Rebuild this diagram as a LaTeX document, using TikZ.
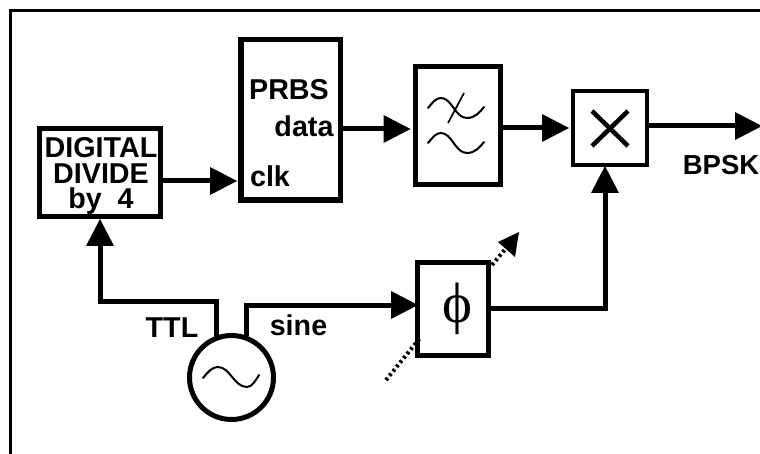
\documentclass[tikz,border=0pt]{standalone}
\usepackage{fontspec}
\setmainfont{Liberation Sans}
\newfontfamily\phifont{Liberation Serif}
\usetikzlibrary{arrows.meta}
\tikzset{
  block/.style={draw=black,line width=5pt,fill=white,inner sep=0pt},
  wire/.style={line width=5pt,line join=miter},
  arrowed/.style={wire,-{Triangle[length=27pt,width=28pt,line width=0pt]}},
  dotline/.style={line width=4pt,dash pattern=on 2.6pt off 3pt},
  lab/.style={font=\bfseries\fontsize{28.7}{30}\selectfont,inner sep=0pt,text=black,anchor=base},
  wave/.style={line width=2pt,line cap=round},
}
\begin{document}
\begin{tikzpicture}[x=1pt,y=-1pt]
\useasboundingbox (0,0) rectangle (760,454);
\fill[white] (0,0) rectangle (760,454);
\coordinate (fa) at (10.5,454);
\coordinate (fb) at (10.5,10.3);
\coordinate (fc) at (760,10.3);
\draw[line width=2.7pt] (fa) -- (fb) -- (fc);

\node[block,minimum width=121pt,minimum height=88pt] (div) at (100,172.5) {};
\node[block,line width=5.5pt,minimum width=99.5pt,minimum height=160.5pt] (prbs) at (290.5,120) {};
\node[block,minimum width=85pt,minimum height=118pt] (filt) at (458,125.5) {};
\node[block,line width=4pt,minimum width=74pt,minimum height=74pt] (mix) at (610,128) {};
\node[block,minimum width=71pt,minimum height=93pt] (ps) at (453,309) {};
\node[circle,block,minimum size=84pt] (osc) at (231.5,377.5) {};

\node[font=\bfseries\fontsize{28.7}{25.6}\selectfont,inner sep=0pt,align=center,anchor=center] (t1) at (101,176) {DIGITAL\\DIVIDE\\by\ \ 4};
\node[lab] (t4) at (289,100) {PRBS};
\node[lab] (t5) at (304,137) {data};
\node[lab] (t6) at (270,187) {clk};
\node[lab,font=\bfseries\fontsize{27.5}{30}\selectfont] (t7) at (721,175) {BPSK};
\node[lab] (t8) at (172,337) {TTL};
\node[lab] (t9) at (298.5,335) {sine};
\node[font=\phifont\fontsize{57}{57}\selectfont,inner sep=0pt] (phi) at (457,309) {ϕ};

\draw[wave] (428,108) .. controls (433,102) and (436,98) .. (441,98) .. controls (452,98) and (455,118) .. (467,118) .. controls (475,118) and (480,112) .. (484,107);
\draw[wave] (428,143) .. controls (433,137) and (436,133) .. (441,133) .. controls (452,133) and (455,153) .. (467,153) .. controls (475,153) and (480,147) .. (484,142);
\draw[line width=1.7pt] (448,123) -- (464,93);
\draw[line width=4.5pt] (592,111) -- (628,146);
\draw[line width=4.5pt] (628,111) -- (592,146);
\draw[wave] (203,378) .. controls (208,372) and (212,367) .. (218,367) .. controls (230,367) and (234,387) .. (247,387) .. controls (252,387) and (256,380) .. (259,375);

\draw[arrowed,shorten >=2.5pt] (prbs.east |- 0,129) -- (filt.west |- 0,129);
\draw[arrowed,shorten >=2pt] (filt.east |- 0,128) -- (mix.west |- 0,128);
\coordinate (out) at (762,126);
\draw[arrowed] (mix.east |- 0,126) -- (out);
\draw[arrowed,shorten >=1pt] (div.east |- 0,181) -- (prbs.west |- 0,181);
\draw[arrowed] (osc.110) |- (100,301) -- (div.south);
\draw[arrowed,shorten >=-3pt] (osc.70) |- (ps.west |- 0,305);
\draw[arrowed,shorten >=-1pt] (ps.east |- 0,308) -| (mix.south -| 605,0);
\coordinate (da) at (386,380);
\coordinate (db) at (420,338);
\draw[dotline] (da) -- (db);
\coordinate (dc) at (492,265);
\coordinate (dd) at (507,247);
\draw[dotline] (dc) -- (dd);
\fill (519,232) -- (498,242) -- (515,257) -- cycle;
\end{tikzpicture}
\end{document}
